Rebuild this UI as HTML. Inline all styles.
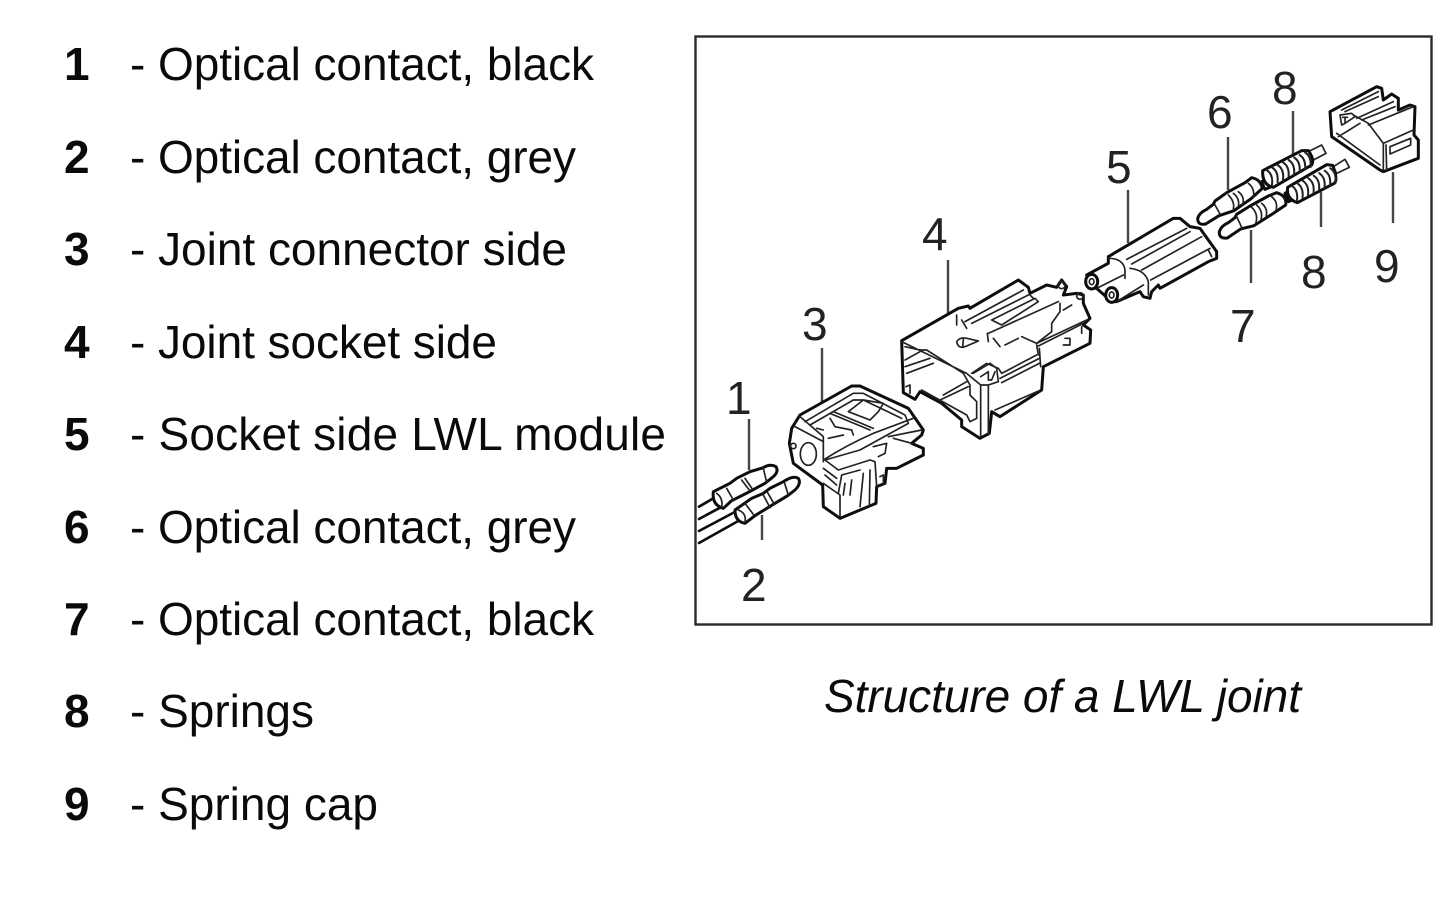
<!DOCTYPE html>
<html><head><meta charset="utf-8"><style>
html,body{margin:0;padding:0;background:#fff;width:1452px;height:904px;overflow:hidden}
svg{display:block}
text{font-family:"Liberation Sans",Arial,sans-serif;fill:#0a0a0a}
.l{font-size:46px}
.b{font-size:46px;font-weight:bold}
.n{font-size:46px;fill:#222}
.o{fill:#fff;stroke:#111;stroke-width:9;stroke-linejoin:round;stroke-linecap:round}
.w{fill:#fff;stroke:#111;stroke-width:9;stroke-linejoin:round;stroke-linecap:round}
.i{fill:none;stroke:#222;stroke-width:5;stroke-linejoin:round;stroke-linecap:round}
.s{fill:none;stroke:#222;stroke-width:6;stroke-linecap:round}
.k{fill:none;stroke:#111;stroke-width:8;stroke-linecap:round;stroke-linejoin:round}
.c{stroke:#444;stroke-width:2.4}
</style></head><body>
<svg width="1452" height="904" viewBox="0 0 1452 904" xmlns="http://www.w3.org/2000/svg">
<defs><filter id="s" x="-2%" y="-2%" width="104%" height="104%"><feGaussianBlur stdDeviation="0.35"/></filter></defs>
<rect width="1452" height="904" fill="#fff"/>

<g>
<text class="b" x="64" y="80">1</text><text class="l" x="130" y="80" textLength="464">- Optical contact, black</text>
<text class="b" x="64" y="173">2</text><text class="l" x="130" y="173" textLength="446">- Optical contact, grey</text>
<text class="b" x="64" y="265">3</text><text class="l" x="130" y="265" textLength="437">- Joint connector side</text>
<text class="b" x="64" y="358">4</text><text class="l" x="130" y="358" textLength="367">- Joint socket side</text>
<text class="b" x="64" y="450">5</text><text class="l" x="130" y="450" textLength="536">- Socket side LWL module</text>
<text class="b" x="64" y="543">6</text><text class="l" x="130" y="543" textLength="446">- Optical contact, grey</text>
<text class="b" x="64" y="635">7</text><text class="l" x="130" y="635" textLength="464">- Optical contact, black</text>
<text class="b" x="64" y="727">8</text><text class="l" x="130" y="727" textLength="184">- Springs</text>
<text class="b" x="64" y="820">9</text><text class="l" x="130" y="820" textLength="248">- Spring cap</text>
</g>

<rect x="695.5" y="36.5" width="736" height="588" fill="none" stroke="#2a2a2a" stroke-width="2.4"/>
<text class="l" x="824" y="712" font-style="italic" textLength="477">Structure of a LWL joint</text>

<g filter="url(#s)">
<!-- leader lines -->
<g class="c">
<line x1="749" y1="419" x2="749" y2="470"/>
<line x1="762" y1="515" x2="762" y2="540"/>
<line x1="822" y1="348" x2="822" y2="403"/>
<line x1="948" y1="260" x2="948" y2="313"/>
<line x1="1128" y1="190" x2="1128" y2="243"/>
<line x1="1228" y1="137" x2="1228" y2="190"/>
<line x1="1293" y1="111" x2="1293" y2="155"/>
<line x1="1321" y1="192" x2="1321" y2="227"/>
<line x1="1251" y1="230" x2="1251" y2="283"/>
<line x1="1393" y1="172" x2="1393" y2="223"/>
</g>

<!-- Parts 1, 2 -->
<g transform="translate(695,455) scale(.33333)">
<path class="k" d="M12 155 L55 130 M12 192 L75 158 M12 228 L125 168 M12 264 L135 195"/>
<path class="w" d="M55 110 L105 85 L125 70 L165 50 L205 38 Q225 25 243 35 Q252 50 235 65 L210 85 L160 112 L110 137 L85 160 Q50 150 55 110Z"/>
<path class="i" d="M65 115 Q85 130 80 155 M95 100 L115 135 M140 75 L165 108 M150 70 L172 102 M205 40 L215 82"/>
<path class="w" d="M120 165 L170 130 L205 115 L225 100 L265 80 Q295 60 310 70 Q320 85 300 105 L278 122 L235 148 L180 182 L150 205 Q120 200 120 165Z"/>
<path class="i" d="M130 165 Q155 175 150 200 M150 145 L175 178 M205 120 L225 158 M218 113 L238 148 M268 82 L280 120"/>
</g>

<!-- Part 3 -->
<g transform="translate(780,380) scale(.33333)">
<path class="o" d="M35 145 L60 105 L215 18 L240 18 L385 85 L430 150 L425 165 L395 190 L430 205 L430 225 L350 265 L320 265 L315 310 L290 320 L288 370 L180 415 L130 380 L128 315 L40 250 L28 190Z"/>
<path class="i" d="M60 110 L130 170 L130 245 M45 140 L130 185 M75 125 L220 40 L250 40 L375 105 L385 130 L240 210 L135 240 M90 135 L220 60 L250 60 L365 115 M150 100 L270 150 M160 95 L280 145 M150 115 L165 140 L215 150 L220 165 M205 95 L250 60 L310 70 L295 95 L270 120Z M145 175 L190 165 M130 240 Q200 195 280 160 L400 115 M135 240 L175 270 L270 240 L285 245 L290 320 M270 270 L268 380 M250 280 L240 380 M130 310 L180 345 L180 410 M175 340 L185 285 L240 270 M190 345 L195 310 M210 345 L215 300 M280 200 L320 190 L315 220 L295 230 M325 170 L425 150 M340 175 L395 190 M130 265 L170 295 M135 285 L170 315 M110 145 L130 150 M300 290 L310 285 L310 310"/>
<ellipse class="i" cx="85" cy="222" rx="24" ry="34"/>
<circle class="i" cx="40" cy="198" r="8"/>
</g>

<!-- Part 4 outline -->
<g transform="translate(880,200) scale(.33333)">
<path class="o" d="M65 422 L235 325 L265 318 L270 325 L415 240 L445 262 L450 280 L500 255 L530 262 L545 240 L560 260 L550 285 L590 280 L610 285 L610 310 L630 355 L610 375 L632 390 L630 430 L490 500 L485 570 L360 650 L335 635 L328 700 L300 715 L245 680 L245 660 L185 610 L120 575 L105 598 L70 578Z"/>
<path class="i" d="M275 520 L320 490 L355 505 L365 520 L470 465 M360 535 L478 475 M365 548 L478 490 M478 445 L482 500 M345 630 L478 572"/>
</g>
<!-- Part 4 front face -->
<g transform="translate(890,330) scale(.33333)">
<path class="i" d="M35 35 L230 130 L272 165 M45 50 L90 60 L110 60 L220 130 L240 165 L240 195 L260 215 L260 265 L240 275 L230 255 M45 90 L90 65 M45 110 L120 85 M50 130 L130 100 M160 195 L230 155 M150 210 L235 170 M95 180 L230 255 M48 170 L60 165 L60 190 M272 165 L272 320 M295 165 L295 315 M272 165 L295 165 M250 130 L300 100 L320 115 L325 155 L295 165 M272 140 L295 125 L295 150 L305 150 L315 125"/>
</g>
<!-- Part 4 top details -->
<g transform="translate(950,270) scale(.33333)">
<path class="i" d="M20 135 L20 165 M35 150 L50 175 M45 155 L220 60 M65 160 L235 75 M125 150 L255 85 L265 95 L155 165Z M115 190 L325 95 M330 100 L330 125 L305 160 L305 185 L260 220 L215 200 M112 190 L115 215 M130 205 L150 230 M165 225 L205 205 M260 220 L410 150 M265 228 L400 160 M340 120 L365 105 M260 225 L265 255 M345 205 L360 205 L360 225 L340 225 M395 170 L395 190 M240 75 L250 85"/>
<path class="i" d="M20 215 Q30 200 50 205 L85 213 L50 228 Q25 240 20 215Z M40 208 L38 232"/>
<circle class="i" cx="335" cy="45" r="11"/><circle class="i" cx="390" cy="78" r="10"/>
</g>

<!-- Part 5 -->
<g transform="translate(1080,200) scale(.33333)">
<path class="o" d="M20 225 L85 190 L85 170 L110 155 L280 55 L300 55 L330 80 L360 85 L385 120 L410 155 L410 175 L385 185 L240 265 L235 255 L215 275 L210 295 L190 290 L180 275 L110 305 L95 305 L50 265 L30 262Z"/>
<path class="i" d="M85 175 Q130 175 135 210 L135 235 M50 265 L130 225 M150 205 Q195 210 205 245 L205 285 M140 178 L320 85 M155 192 L330 95 M185 210 L365 110 M212 240 L390 145 M110 305 L190 255 M385 150 L395 170"/>
<ellipse class="w" cx="35" cy="245" rx="18" ry="22"/><ellipse class="i" cx="35" cy="245" rx="7" ry="9"/>
<ellipse class="w" cx="95" cy="285" rx="18" ry="22"/><ellipse class="i" cx="95" cy="285" rx="7" ry="9"/>
</g>

<!-- Parts 6,7,8 -->
<g transform="translate(1190,130) scale(.33333)">
<path class="i" d="M355 65 L395 45 L408 70 L370 90Z"/>
<path class="i" d="M430 110 L465 88 L478 112 L440 130Z"/>
<path class="w" d="M215 155 L245 140 L255 165 L225 178Z"/>
<path class="w" d="M285 190 L310 175 L320 205 L295 215Z"/>
<path class="w" d="M218 122 L335 62 L355 62 Q375 90 365 105 L250 172 Q216 165 218 122Z"/>
<path class="s" d="M230 120 q20 13 16 44 m.5 -51.5 q20 13 16 44 m.5 -51.5 q20 13 16 44 m.5 -51.5 q20 13 16 44 m.5 -51.5 q20 13 16 44 m.5 -51.5 q20 13 16 44 m.5 -51.5 q20 13 16 44 m.5 -51.5 q20 13 16 44"/>
<path class="w" d="M293 172 L410 104 L428 106 Q445 150 433 160 L322 218 Q288 207 293 172Z"/>
<path class="s" d="M305 167 q20 13 16 44 m.5 -51.5 q20 13 16 44 m.5 -51.5 q20 13 16 44 m.5 -51.5 q20 13 16 44 m.5 -51.5 q20 13 16 44 m.5 -51.5 q20 13 16 44 m.5 -51.5 q20 13 16 44 m.5 -51.5 q20 13 16 44"/>
<path class="w" d="M23 265 Q28 248 50 238 L70 223 L75 213 L110 188 L165 158 L185 143 Q212 148 217 175 L182 207 L132 242 L87 257 L47 282 Q23 287 23 265Z"/>
<path class="i" d="M75 225 L90 252 M115 195 Q135 215 130 237 M130 190 Q150 205 145 230 M145 185 Q165 200 158 224 M175 160 Q195 175 190 202"/>
<path class="w" d="M88 305 Q93 288 115 278 L135 263 L140 253 L180 228 L235 198 L260 188 Q292 198 287 225 L247 252 L192 287 L152 297 L112 324 Q86 327 88 305Z"/>
<path class="i" d="M140 260 L155 292 M185 232 Q205 250 198 277 M200 225 Q220 243 213 269 M215 220 Q235 236 228 260 M245 200 Q265 215 258 242"/>
</g>

<!-- Part 9 -->
<g transform="translate(1320,80) scale(.33333)">
<path class="o" d="M30 95 L35 170 L180 270 L190 275 L295 235 L295 180 L282 165 L285 80 L270 75 L235 90 L235 55 L215 42 L190 60 L185 25 L170 20Z"/>
<path class="i" d="M50 160 L180 255 M55 170 L120 130 M60 105 L95 100 L105 110 L75 130 L65 135Z M100 105 L145 130 M145 130 L190 190 L190 268 M145 135 L280 80 M65 90 L175 35 M75 95 L175 50 M110 115 L220 65 M125 120 L225 80 M190 190 L280 150 M210 200 L272 175 L272 195 L210 222Z M198 195 L200 270 M68 112 L82 112 M75 112 L75 130"/>
</g>
</g>

<!-- diagram labels -->
<text class="n" x="726" y="414">1</text>
<text class="n" x="741" y="601">2</text>
<text class="n" x="802" y="340">3</text>
<text class="n" x="922" y="250">4</text>
<text class="n" x="1106" y="183">5</text>
<text class="n" x="1207" y="128">6</text>
<text class="n" x="1230" y="342">7</text>
<text class="n" x="1272" y="104">8</text>
<text class="n" x="1301" y="288">8</text>
<text class="n" x="1374" y="282">9</text>
</svg>
</body></html>
